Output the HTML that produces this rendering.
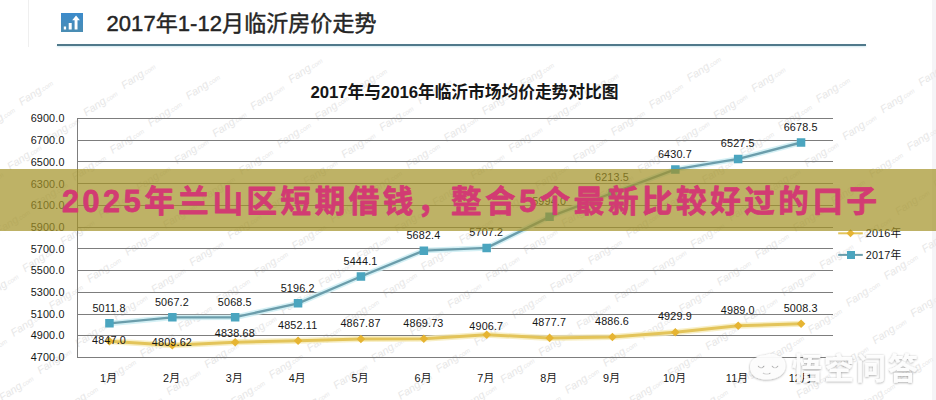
<!DOCTYPE html>
<html lang="zh-CN">
<head>
<meta charset="utf-8">
<title>2017年1-12月临沂房价走势</title>
<style>
html,body{margin:0;padding:0;background:#fff;}
body{width:936px;height:400px;overflow:hidden;position:relative;font-family:"Liberation Sans","Noto Sans CJK SC",sans-serif;color:#1f1f1f;}
.stage{position:absolute;left:0;top:0;width:936px;height:400px;overflow:hidden;background:#fff;}
.sr{position:absolute;width:1px;height:1px;margin:-1px;padding:0;overflow:hidden;clip:rect(0 0 0 0);clip-path:inset(50%);white-space:nowrap;border:0;font-size:1px;color:transparent;}
svg{position:absolute;left:0;top:0;display:block;overflow:visible;}
h1,h2,h3,p,figure{margin:0;padding:0;font-weight:normal;}
.hdr{position:absolute;left:0;top:0;width:936px;height:48px;}
.icon{position:absolute;left:61px;top:13px;width:22px;height:19px;background:linear-gradient(#3c8bcb,#4a8db3);}
.rule{position:absolute;left:57px;top:43.5px;width:809px;height:2px;background:#50798b;box-shadow:0 1px 2px rgba(120,190,215,.35);}
.chart text{font-family:"Liberation Sans","Noto Sans CJK SC",sans-serif;font-size:10.8px;letter-spacing:.15px;fill:#161616;}
.chart .wm text{fill:#e7e7e7;font-style:italic;letter-spacing:0;}
.banner{position:absolute;left:0;top:169px;width:936px;height:62px;background:rgba(163,146,40,.71);}
.edgeL{position:absolute;left:28px;top:0;width:1px;height:47px;background:#efefef;}
.edgeR{position:absolute;left:932px;top:0;width:4px;height:400px;background:#f5f4f7;}
.mark{position:absolute;left:0;top:0;width:936px;height:400px;pointer-events:none;}
</style>
</head>
<body>
<div class="stage">
<div class="edgeL"></div><div class="edgeR"></div>
<figure class="chart"><svg width="936" height="400" viewBox="0 0 936 400" role="img" aria-label="2017年与2016年临沂市场均价走势对比图">
<g class="wm">
<text transform="translate(703.5 68.5) rotate(-34)" x="-19" y="3.5" font-size="10.5">Fang<tspan font-size="6.5">.com</tspan></text>
<text transform="translate(305 70) rotate(-34)" x="-19" y="3.5" font-size="10.5">Fang<tspan font-size="6.5">.com</tspan></text>
<text transform="translate(935 73) rotate(-34)" x="-19" y="3.5" font-size="10.5">Fang<tspan font-size="6.5">.com</tspan></text>
<text transform="translate(536.5 74.5) rotate(-34)" x="-19" y="3.5" font-size="10.5">Fang<tspan font-size="6.5">.com</tspan></text>
<text transform="translate(138 76) rotate(-34)" x="-19" y="3.5" font-size="10.5">Fang<tspan font-size="6.5">.com</tspan></text>
<text transform="translate(768 79) rotate(-34)" x="-19" y="3.5" font-size="10.5">Fang<tspan font-size="6.5">.com</tspan></text>
<text transform="translate(369.5 80.5) rotate(-34)" x="-19" y="3.5" font-size="10.5">Fang<tspan font-size="6.5">.com</tspan></text>
<text transform="translate(601 85) rotate(-34)" x="-19" y="3.5" font-size="10.5">Fang<tspan font-size="6.5">.com</tspan></text>
<text transform="translate(202.5 86.5) rotate(-34)" x="-19" y="3.5" font-size="10.5">Fang<tspan font-size="6.5">.com</tspan></text>
<text transform="translate(832.5 89.5) rotate(-34)" x="-19" y="3.5" font-size="10.5">Fang<tspan font-size="6.5">.com</tspan></text>
<text transform="translate(434 91) rotate(-34)" x="-19" y="3.5" font-size="10.5">Fang<tspan font-size="6.5">.com</tspan></text>
<text transform="translate(35.5 92.5) rotate(-34)" x="-19" y="3.5" font-size="10.5">Fang<tspan font-size="6.5">.com</tspan></text>
<text transform="translate(665.5 95.5) rotate(-34)" x="-19" y="3.5" font-size="10.5">Fang<tspan font-size="6.5">.com</tspan></text>
<text transform="translate(267 97) rotate(-34)" x="-19" y="3.5" font-size="10.5">Fang<tspan font-size="6.5">.com</tspan></text>
<text transform="translate(897 100) rotate(-34)" x="-19" y="3.5" font-size="10.5">Fang<tspan font-size="6.5">.com</tspan></text>
<text transform="translate(498.5 101.5) rotate(-34)" x="-19" y="3.5" font-size="10.5">Fang<tspan font-size="6.5">.com</tspan></text>
<text transform="translate(100 103) rotate(-34)" x="-19" y="3.5" font-size="10.5">Fang<tspan font-size="6.5">.com</tspan></text>
<text transform="translate(730 106) rotate(-34)" x="-19" y="3.5" font-size="10.5">Fang<tspan font-size="6.5">.com</tspan></text>
<text transform="translate(331.5 107.5) rotate(-34)" x="-19" y="3.5" font-size="10.5">Fang<tspan font-size="6.5">.com</tspan></text>
<text transform="translate(563 112) rotate(-34)" x="-19" y="3.5" font-size="10.5">Fang<tspan font-size="6.5">.com</tspan></text>
<text transform="translate(164.5 113.5) rotate(-34)" x="-19" y="3.5" font-size="10.5">Fang<tspan font-size="6.5">.com</tspan></text>
<text transform="translate(794.5 116.5) rotate(-34)" x="-19" y="3.5" font-size="10.5">Fang<tspan font-size="6.5">.com</tspan></text>
<text transform="translate(396 118) rotate(-34)" x="-19" y="3.5" font-size="10.5">Fang<tspan font-size="6.5">.com</tspan></text>
<text transform="translate(-2.5 119.5) rotate(-34)" x="-19" y="3.5" font-size="10.5">Fang<tspan font-size="6.5">.com</tspan></text>
<text transform="translate(627.5 122.5) rotate(-34)" x="-19" y="3.5" font-size="10.5">Fang<tspan font-size="6.5">.com</tspan></text>
<text transform="translate(229 124) rotate(-34)" x="-19" y="3.5" font-size="10.5">Fang<tspan font-size="6.5">.com</tspan></text>
<text transform="translate(859 127) rotate(-34)" x="-19" y="3.5" font-size="10.5">Fang<tspan font-size="6.5">.com</tspan></text>
<text transform="translate(460.5 128.5) rotate(-34)" x="-19" y="3.5" font-size="10.5">Fang<tspan font-size="6.5">.com</tspan></text>
<text transform="translate(62 130) rotate(-34)" x="-19" y="3.5" font-size="10.5">Fang<tspan font-size="6.5">.com</tspan></text>
<text transform="translate(692 133) rotate(-34)" x="-19" y="3.5" font-size="10.5">Fang<tspan font-size="6.5">.com</tspan></text>
<text transform="translate(293.5 134.5) rotate(-34)" x="-19" y="3.5" font-size="10.5">Fang<tspan font-size="6.5">.com</tspan></text>
<text transform="translate(923.5 137.5) rotate(-34)" x="-19" y="3.5" font-size="10.5">Fang<tspan font-size="6.5">.com</tspan></text>
<text transform="translate(525 139) rotate(-34)" x="-19" y="3.5" font-size="10.5">Fang<tspan font-size="6.5">.com</tspan></text>
<text transform="translate(126.5 140.5) rotate(-34)" x="-19" y="3.5" font-size="10.5">Fang<tspan font-size="6.5">.com</tspan></text>
<text transform="translate(756.5 143.5) rotate(-34)" x="-19" y="3.5" font-size="10.5">Fang<tspan font-size="6.5">.com</tspan></text>
<text transform="translate(358 145) rotate(-34)" x="-19" y="3.5" font-size="10.5">Fang<tspan font-size="6.5">.com</tspan></text>
<text transform="translate(589.5 149.5) rotate(-34)" x="-19" y="3.5" font-size="10.5">Fang<tspan font-size="6.5">.com</tspan></text>
<text transform="translate(191 151) rotate(-34)" x="-19" y="3.5" font-size="10.5">Fang<tspan font-size="6.5">.com</tspan></text>
<text transform="translate(821 154) rotate(-34)" x="-19" y="3.5" font-size="10.5">Fang<tspan font-size="6.5">.com</tspan></text>
<text transform="translate(422.5 155.5) rotate(-34)" x="-19" y="3.5" font-size="10.5">Fang<tspan font-size="6.5">.com</tspan></text>
<text transform="translate(24 157) rotate(-34)" x="-19" y="3.5" font-size="10.5">Fang<tspan font-size="6.5">.com</tspan></text>
<text transform="translate(654 160) rotate(-34)" x="-19" y="3.5" font-size="10.5">Fang<tspan font-size="6.5">.com</tspan></text>
<text transform="translate(255.5 161.5) rotate(-34)" x="-19" y="3.5" font-size="10.5">Fang<tspan font-size="6.5">.com</tspan></text>
<text transform="translate(885.5 164.5) rotate(-34)" x="-19" y="3.5" font-size="10.5">Fang<tspan font-size="6.5">.com</tspan></text>
<text transform="translate(487 166) rotate(-34)" x="-19" y="3.5" font-size="10.5">Fang<tspan font-size="6.5">.com</tspan></text>
<text transform="translate(88.5 167.5) rotate(-34)" x="-19" y="3.5" font-size="10.5">Fang<tspan font-size="6.5">.com</tspan></text>
<text transform="translate(718.5 170.5) rotate(-34)" x="-19" y="3.5" font-size="10.5">Fang<tspan font-size="6.5">.com</tspan></text>
<text transform="translate(320 172) rotate(-34)" x="-19" y="3.5" font-size="10.5">Fang<tspan font-size="6.5">.com</tspan></text>
<text transform="translate(950 175) rotate(-34)" x="-19" y="3.5" font-size="10.5">Fang<tspan font-size="6.5">.com</tspan></text>
<text transform="translate(551.5 176.5) rotate(-34)" x="-19" y="3.5" font-size="10.5">Fang<tspan font-size="6.5">.com</tspan></text>
<text transform="translate(153 178) rotate(-34)" x="-19" y="3.5" font-size="10.5">Fang<tspan font-size="6.5">.com</tspan></text>
<text transform="translate(783 181) rotate(-34)" x="-19" y="3.5" font-size="10.5">Fang<tspan font-size="6.5">.com</tspan></text>
<text transform="translate(384.5 182.5) rotate(-34)" x="-19" y="3.5" font-size="10.5">Fang<tspan font-size="6.5">.com</tspan></text>
<text transform="translate(-14 184) rotate(-34)" x="-19" y="3.5" font-size="10.5">Fang<tspan font-size="6.5">.com</tspan></text>
<text transform="translate(616 187) rotate(-34)" x="-19" y="3.5" font-size="10.5">Fang<tspan font-size="6.5">.com</tspan></text>
<text transform="translate(217.5 188.5) rotate(-34)" x="-19" y="3.5" font-size="10.5">Fang<tspan font-size="6.5">.com</tspan></text>
<text transform="translate(847.5 191.5) rotate(-34)" x="-19" y="3.5" font-size="10.5">Fang<tspan font-size="6.5">.com</tspan></text>
<text transform="translate(449 193) rotate(-34)" x="-19" y="3.5" font-size="10.5">Fang<tspan font-size="6.5">.com</tspan></text>
<text transform="translate(50.5 194.5) rotate(-34)" x="-19" y="3.5" font-size="10.5">Fang<tspan font-size="6.5">.com</tspan></text>
<text transform="translate(680.5 197.5) rotate(-34)" x="-19" y="3.5" font-size="10.5">Fang<tspan font-size="6.5">.com</tspan></text>
<text transform="translate(282 199) rotate(-34)" x="-19" y="3.5" font-size="10.5">Fang<tspan font-size="6.5">.com</tspan></text>
<text transform="translate(912 202) rotate(-34)" x="-19" y="3.5" font-size="10.5">Fang<tspan font-size="6.5">.com</tspan></text>
<text transform="translate(513.5 203.5) rotate(-34)" x="-19" y="3.5" font-size="10.5">Fang<tspan font-size="6.5">.com</tspan></text>
<text transform="translate(115 205) rotate(-34)" x="-19" y="3.5" font-size="10.5">Fang<tspan font-size="6.5">.com</tspan></text>
<text transform="translate(745 208) rotate(-34)" x="-19" y="3.5" font-size="10.5">Fang<tspan font-size="6.5">.com</tspan></text>
<text transform="translate(346.5 209.5) rotate(-34)" x="-19" y="3.5" font-size="10.5">Fang<tspan font-size="6.5">.com</tspan></text>
<text transform="translate(578 214) rotate(-34)" x="-19" y="3.5" font-size="10.5">Fang<tspan font-size="6.5">.com</tspan></text>
<text transform="translate(179.5 215.5) rotate(-34)" x="-19" y="3.5" font-size="10.5">Fang<tspan font-size="6.5">.com</tspan></text>
<text transform="translate(809.5 218.5) rotate(-34)" x="-19" y="3.5" font-size="10.5">Fang<tspan font-size="6.5">.com</tspan></text>
<text transform="translate(411 220) rotate(-34)" x="-19" y="3.5" font-size="10.5">Fang<tspan font-size="6.5">.com</tspan></text>
<text transform="translate(12.5 221.5) rotate(-34)" x="-19" y="3.5" font-size="10.5">Fang<tspan font-size="6.5">.com</tspan></text>
<text transform="translate(642.5 224.5) rotate(-34)" x="-19" y="3.5" font-size="10.5">Fang<tspan font-size="6.5">.com</tspan></text>
<text transform="translate(244 226) rotate(-34)" x="-19" y="3.5" font-size="10.5">Fang<tspan font-size="6.5">.com</tspan></text>
<text transform="translate(874 229) rotate(-34)" x="-19" y="3.5" font-size="10.5">Fang<tspan font-size="6.5">.com</tspan></text>
<text transform="translate(475.5 230.5) rotate(-34)" x="-19" y="3.5" font-size="10.5">Fang<tspan font-size="6.5">.com</tspan></text>
<text transform="translate(77 232) rotate(-34)" x="-19" y="3.5" font-size="10.5">Fang<tspan font-size="6.5">.com</tspan></text>
<text transform="translate(707 235) rotate(-34)" x="-19" y="3.5" font-size="10.5">Fang<tspan font-size="6.5">.com</tspan></text>
<text transform="translate(308.5 236.5) rotate(-34)" x="-19" y="3.5" font-size="10.5">Fang<tspan font-size="6.5">.com</tspan></text>
<text transform="translate(938.5 239.5) rotate(-34)" x="-19" y="3.5" font-size="10.5">Fang<tspan font-size="6.5">.com</tspan></text>
<text transform="translate(540 241) rotate(-34)" x="-19" y="3.5" font-size="10.5">Fang<tspan font-size="6.5">.com</tspan></text>
<text transform="translate(141.5 242.5) rotate(-34)" x="-19" y="3.5" font-size="10.5">Fang<tspan font-size="6.5">.com</tspan></text>
<text transform="translate(771.5 245.5) rotate(-34)" x="-19" y="3.5" font-size="10.5">Fang<tspan font-size="6.5">.com</tspan></text>
<text transform="translate(373 247) rotate(-34)" x="-19" y="3.5" font-size="10.5">Fang<tspan font-size="6.5">.com</tspan></text>
<text transform="translate(604.5 251.5) rotate(-34)" x="-19" y="3.5" font-size="10.5">Fang<tspan font-size="6.5">.com</tspan></text>
<text transform="translate(206 253) rotate(-34)" x="-19" y="3.5" font-size="10.5">Fang<tspan font-size="6.5">.com</tspan></text>
<text transform="translate(836 256) rotate(-34)" x="-19" y="3.5" font-size="10.5">Fang<tspan font-size="6.5">.com</tspan></text>
<text transform="translate(437.5 257.5) rotate(-34)" x="-19" y="3.5" font-size="10.5">Fang<tspan font-size="6.5">.com</tspan></text>
<text transform="translate(39 259) rotate(-34)" x="-19" y="3.5" font-size="10.5">Fang<tspan font-size="6.5">.com</tspan></text>
<text transform="translate(669 262) rotate(-34)" x="-19" y="3.5" font-size="10.5">Fang<tspan font-size="6.5">.com</tspan></text>
<text transform="translate(270.5 263.5) rotate(-34)" x="-19" y="3.5" font-size="10.5">Fang<tspan font-size="6.5">.com</tspan></text>
<text transform="translate(900.5 266.5) rotate(-34)" x="-19" y="3.5" font-size="10.5">Fang<tspan font-size="6.5">.com</tspan></text>
<text transform="translate(502 268) rotate(-34)" x="-19" y="3.5" font-size="10.5">Fang<tspan font-size="6.5">.com</tspan></text>
<text transform="translate(103.5 269.5) rotate(-34)" x="-19" y="3.5" font-size="10.5">Fang<tspan font-size="6.5">.com</tspan></text>
<text transform="translate(733.5 272.5) rotate(-34)" x="-19" y="3.5" font-size="10.5">Fang<tspan font-size="6.5">.com</tspan></text>
<text transform="translate(335 274) rotate(-34)" x="-19" y="3.5" font-size="10.5">Fang<tspan font-size="6.5">.com</tspan></text>
<text transform="translate(566.5 278.5) rotate(-34)" x="-19" y="3.5" font-size="10.5">Fang<tspan font-size="6.5">.com</tspan></text>
<text transform="translate(168 280) rotate(-34)" x="-19" y="3.5" font-size="10.5">Fang<tspan font-size="6.5">.com</tspan></text>
<text transform="translate(798 283) rotate(-34)" x="-19" y="3.5" font-size="10.5">Fang<tspan font-size="6.5">.com</tspan></text>
<text transform="translate(399.5 284.5) rotate(-34)" x="-19" y="3.5" font-size="10.5">Fang<tspan font-size="6.5">.com</tspan></text>
<text transform="translate(1 286) rotate(-34)" x="-19" y="3.5" font-size="10.5">Fang<tspan font-size="6.5">.com</tspan></text>
<text transform="translate(631 289) rotate(-34)" x="-19" y="3.5" font-size="10.5">Fang<tspan font-size="6.5">.com</tspan></text>
<text transform="translate(232.5 290.5) rotate(-34)" x="-19" y="3.5" font-size="10.5">Fang<tspan font-size="6.5">.com</tspan></text>
<text transform="translate(862.5 293.5) rotate(-34)" x="-19" y="3.5" font-size="10.5">Fang<tspan font-size="6.5">.com</tspan></text>
<text transform="translate(464 295) rotate(-34)" x="-19" y="3.5" font-size="10.5">Fang<tspan font-size="6.5">.com</tspan></text>
<text transform="translate(65.5 296.5) rotate(-34)" x="-19" y="3.5" font-size="10.5">Fang<tspan font-size="6.5">.com</tspan></text>
<text transform="translate(695.5 299.5) rotate(-34)" x="-19" y="3.5" font-size="10.5">Fang<tspan font-size="6.5">.com</tspan></text>
<text transform="translate(297 301) rotate(-34)" x="-19" y="3.5" font-size="10.5">Fang<tspan font-size="6.5">.com</tspan></text>
<text transform="translate(927 304) rotate(-34)" x="-19" y="3.5" font-size="10.5">Fang<tspan font-size="6.5">.com</tspan></text>
<text transform="translate(528.5 305.5) rotate(-34)" x="-19" y="3.5" font-size="10.5">Fang<tspan font-size="6.5">.com</tspan></text>
<text transform="translate(130 307) rotate(-34)" x="-19" y="3.5" font-size="10.5">Fang<tspan font-size="6.5">.com</tspan></text>
<text transform="translate(760 310) rotate(-34)" x="-19" y="3.5" font-size="10.5">Fang<tspan font-size="6.5">.com</tspan></text>
<text transform="translate(361.5 311.5) rotate(-34)" x="-19" y="3.5" font-size="10.5">Fang<tspan font-size="6.5">.com</tspan></text>
<text transform="translate(593 316) rotate(-34)" x="-19" y="3.5" font-size="10.5">Fang<tspan font-size="6.5">.com</tspan></text>
<text transform="translate(194.5 317.5) rotate(-34)" x="-19" y="3.5" font-size="10.5">Fang<tspan font-size="6.5">.com</tspan></text>
<text transform="translate(824.5 320.5) rotate(-34)" x="-19" y="3.5" font-size="10.5">Fang<tspan font-size="6.5">.com</tspan></text>
<text transform="translate(426 322) rotate(-34)" x="-19" y="3.5" font-size="10.5">Fang<tspan font-size="6.5">.com</tspan></text>
<text transform="translate(27.5 323.5) rotate(-34)" x="-19" y="3.5" font-size="10.5">Fang<tspan font-size="6.5">.com</tspan></text>
<text transform="translate(657.5 326.5) rotate(-34)" x="-19" y="3.5" font-size="10.5">Fang<tspan font-size="6.5">.com</tspan></text>
<text transform="translate(259 328) rotate(-34)" x="-19" y="3.5" font-size="10.5">Fang<tspan font-size="6.5">.com</tspan></text>
<text transform="translate(889 331) rotate(-34)" x="-19" y="3.5" font-size="10.5">Fang<tspan font-size="6.5">.com</tspan></text>
<text transform="translate(490.5 332.5) rotate(-34)" x="-19" y="3.5" font-size="10.5">Fang<tspan font-size="6.5">.com</tspan></text>
<text transform="translate(92 334) rotate(-34)" x="-19" y="3.5" font-size="10.5">Fang<tspan font-size="6.5">.com</tspan></text>
<text transform="translate(722 337) rotate(-34)" x="-19" y="3.5" font-size="10.5">Fang<tspan font-size="6.5">.com</tspan></text>
<text transform="translate(323.5 338.5) rotate(-34)" x="-19" y="3.5" font-size="10.5">Fang<tspan font-size="6.5">.com</tspan></text>
<text transform="translate(953.5 341.5) rotate(-34)" x="-19" y="3.5" font-size="10.5">Fang<tspan font-size="6.5">.com</tspan></text>
<text transform="translate(555 343) rotate(-34)" x="-19" y="3.5" font-size="10.5">Fang<tspan font-size="6.5">.com</tspan></text>
<text transform="translate(156.5 344.5) rotate(-34)" x="-19" y="3.5" font-size="10.5">Fang<tspan font-size="6.5">.com</tspan></text>
<text transform="translate(786.5 347.5) rotate(-34)" x="-19" y="3.5" font-size="10.5">Fang<tspan font-size="6.5">.com</tspan></text>
<text transform="translate(388 349) rotate(-34)" x="-19" y="3.5" font-size="10.5">Fang<tspan font-size="6.5">.com</tspan></text>
<text transform="translate(-10.5 350.5) rotate(-34)" x="-19" y="3.5" font-size="10.5">Fang<tspan font-size="6.5">.com</tspan></text>
<text transform="translate(619.5 353.5) rotate(-34)" x="-19" y="3.5" font-size="10.5">Fang<tspan font-size="6.5">.com</tspan></text>
<text transform="translate(221 355) rotate(-34)" x="-19" y="3.5" font-size="10.5">Fang<tspan font-size="6.5">.com</tspan></text>
<text transform="translate(851 358) rotate(-34)" x="-19" y="3.5" font-size="10.5">Fang<tspan font-size="6.5">.com</tspan></text>
<text transform="translate(452.5 359.5) rotate(-34)" x="-19" y="3.5" font-size="10.5">Fang<tspan font-size="6.5">.com</tspan></text>
<text transform="translate(54 361) rotate(-34)" x="-19" y="3.5" font-size="10.5">Fang<tspan font-size="6.5">.com</tspan></text>
<text transform="translate(684 364) rotate(-34)" x="-19" y="3.5" font-size="10.5">Fang<tspan font-size="6.5">.com</tspan></text>
<text transform="translate(285.5 365.5) rotate(-34)" x="-19" y="3.5" font-size="10.5">Fang<tspan font-size="6.5">.com</tspan></text>
<text transform="translate(915.5 368.5) rotate(-34)" x="-19" y="3.5" font-size="10.5">Fang<tspan font-size="6.5">.com</tspan></text>
<text transform="translate(517 370) rotate(-34)" x="-19" y="3.5" font-size="10.5">Fang<tspan font-size="6.5">.com</tspan></text>
<text transform="translate(118.5 371.5) rotate(-34)" x="-19" y="3.5" font-size="10.5">Fang<tspan font-size="6.5">.com</tspan></text>
<text transform="translate(748.5 374.5) rotate(-34)" x="-19" y="3.5" font-size="10.5">Fang<tspan font-size="6.5">.com</tspan></text>
<text transform="translate(350 376) rotate(-34)" x="-19" y="3.5" font-size="10.5">Fang<tspan font-size="6.5">.com</tspan></text>
<text transform="translate(581.5 380.5) rotate(-34)" x="-19" y="3.5" font-size="10.5">Fang<tspan font-size="6.5">.com</tspan></text>
<text transform="translate(183 382) rotate(-34)" x="-19" y="3.5" font-size="10.5">Fang<tspan font-size="6.5">.com</tspan></text>
<text transform="translate(813 385) rotate(-34)" x="-19" y="3.5" font-size="10.5">Fang<tspan font-size="6.5">.com</tspan></text>
<text transform="translate(414.5 386.5) rotate(-34)" x="-19" y="3.5" font-size="10.5">Fang<tspan font-size="6.5">.com</tspan></text>
<text transform="translate(16 388) rotate(-34)" x="-19" y="3.5" font-size="10.5">Fang<tspan font-size="6.5">.com</tspan></text>
<text transform="translate(646 391) rotate(-34)" x="-19" y="3.5" font-size="10.5">Fang<tspan font-size="6.5">.com</tspan></text>
<text transform="translate(247.5 392.5) rotate(-34)" x="-19" y="3.5" font-size="10.5">Fang<tspan font-size="6.5">.com</tspan></text>
<text transform="translate(877.5 395.5) rotate(-34)" x="-19" y="3.5" font-size="10.5">Fang<tspan font-size="6.5">.com</tspan></text>
<text transform="translate(479 397) rotate(-34)" x="-19" y="3.5" font-size="10.5">Fang<tspan font-size="6.5">.com</tspan></text>
<text transform="translate(80.5 398.5) rotate(-34)" x="-19" y="3.5" font-size="10.5">Fang<tspan font-size="6.5">.com</tspan></text>
<text transform="translate(710.5 401.5) rotate(-34)" x="-19" y="3.5" font-size="10.5">Fang<tspan font-size="6.5">.com</tspan></text>
<text transform="translate(312 403) rotate(-34)" x="-19" y="3.5" font-size="10.5">Fang<tspan font-size="6.5">.com</tspan></text>
<text transform="translate(942 406) rotate(-34)" x="-19" y="3.5" font-size="10.5">Fang<tspan font-size="6.5">.com</tspan></text>
<text transform="translate(543.5 407.5) rotate(-34)" x="-19" y="3.5" font-size="10.5">Fang<tspan font-size="6.5">.com</tspan></text>
<text transform="translate(145 409) rotate(-34)" x="-19" y="3.5" font-size="10.5">Fang<tspan font-size="6.5">.com</tspan></text>
</g>
<path d="M77 118.5H832.5M77 140.5H832.5M77 161.5H832.5M77 183.5H832.5M77 205.5H832.5M77 227.5H832.5M77 248.5H832.5M77 270.5H832.5M77 292.5H832.5M77 314.5H832.5M77 335.5H832.5M77 357.5H832.5M77.5 118V358" fill="none" stroke="#7d7d7d" stroke-width="1" shape-rendering="crispEdges"/>
<g text-anchor="end">
<text x="64.6" y="122.4">6900.0</text>
<text x="64.6" y="144.1">6700.0</text>
<text x="64.6" y="165.8">6500.0</text>
<text x="64.6" y="187.5">6300.0</text>
<text x="64.6" y="209.2">6100.0</text>
<text x="64.6" y="230.9">5900.0</text>
<text x="64.6" y="252.6">5700.0</text>
<text x="64.6" y="274.3">5500.0</text>
<text x="64.6" y="296">5300.0</text>
<text x="64.6" y="317.7">5100.0</text>
<text x="64.6" y="339.4">4900.0</text>
<text x="64.6" y="361.1">4700.0</text>
</g>
<g>
<text x="100.1" y="381.6">1月</text>
<text x="163" y="381.6">2月</text>
<text x="225.8" y="381.6">3月</text>
<text x="288.7" y="381.6">4月</text>
<text x="351.6" y="381.6">5月</text>
<text x="414.5" y="381.6">6月</text>
<text x="477.3" y="381.6">7月</text>
<text x="540.2" y="381.6">8月</text>
<text x="603.1" y="381.6">9月</text>
<text x="662.9" y="381.6">10月</text>
<text x="725.8" y="381.6">11月</text>
<text x="788.7" y="381.6">12月</text>
</g>
<polyline points="109.4,341.3 172.3,345.3 235.2,342.2 298.1,340.7 360.9,339 423.8,338.8 486.7,334.8 549.6,337.9 612.4,337 675.3,332.3 738.2,325.8 801.1,323.7" fill="none" stroke="#f6ebb8" stroke-width="6" stroke-linejoin="round" stroke-linecap="round" opacity=".8"/>
<polyline points="109.4,341.3 172.3,345.3 235.2,342.2 298.1,340.7 360.9,339 423.8,338.8 486.7,334.8 549.6,337.9 612.4,337 675.3,332.3 738.2,325.8 801.1,323.7" fill="none" stroke="#e3c45a" stroke-width="3" stroke-linejoin="round" stroke-linecap="round"/>
<path d="M109.4 337l4.3 4.3l-4.3 4.3l-4.3 -4.3zM172.3 341l4.3 4.3l-4.3 4.3l-4.3 -4.3zM235.2 337.9l4.3 4.3l-4.3 4.3l-4.3 -4.3zM298.1 336.4l4.3 4.3l-4.3 4.3l-4.3 -4.3zM360.9 334.7l4.3 4.3l-4.3 4.3l-4.3 -4.3zM423.8 334.5l4.3 4.3l-4.3 4.3l-4.3 -4.3zM486.7 330.5l4.3 4.3l-4.3 4.3l-4.3 -4.3zM549.6 333.6l4.3 4.3l-4.3 4.3l-4.3 -4.3zM612.4 332.7l4.3 4.3l-4.3 4.3l-4.3 -4.3zM675.3 328l4.3 4.3l-4.3 4.3l-4.3 -4.3zM738.2 321.5l4.3 4.3l-4.3 4.3l-4.3 -4.3zM801.1 319.4l4.3 4.3l-4.3 4.3l-4.3 -4.3z" fill="#e6b432"/>
<polyline points="109.4,323.4 172.3,317.4 235.2,317.2 298.1,303.4 360.9,276.5 423.8,250.6 486.7,247.9 549.6,216.8 612.4,193 675.3,169.4 738.2,158.9 801.1,142.5" fill="none" stroke="#c9ecf3" stroke-width="5.5" stroke-linejoin="round" stroke-linecap="round" opacity=".8"/>
<polyline points="109.4,323.4 172.3,317.4 235.2,317.2 298.1,303.4 360.9,276.5 423.8,250.6 486.7,247.9 549.6,216.8 612.4,193 675.3,169.4 738.2,158.9 801.1,142.5" fill="none" stroke="#6b9dab" stroke-width="2.4" stroke-linejoin="round" stroke-linecap="round"/>
<path d="M105.2 319.1h8.5v8.5h-8.5zM168.1 313.1h8.5v8.5h-8.5zM230.9 313h8.5v8.5h-8.5zM293.8 299.1h8.5v8.5h-8.5zM356.7 272.2h8.5v8.5h-8.5zM419.6 246.4h8.5v8.5h-8.5zM482.4 243.7h8.5v8.5h-8.5zM545.3 212.6h8.5v8.5h-8.5zM608.2 188.7h8.5v8.5h-8.5zM671.1 165.2h8.5v8.5h-8.5zM733.9 154.7h8.5v8.5h-8.5zM796.8 138.3h8.5v8.5h-8.5z" fill="#4ba5bf"/>
<g text-anchor="middle">
<text x="109" y="311.7">5011.8</text>
<text x="171.9" y="305.7">5067.2</text>
<text x="234.8" y="305.5">5068.5</text>
<text x="297.7" y="291.7">5196.2</text>
<text x="360.5" y="264.8">5444.1</text>
<text x="423.4" y="238.9">5682.4</text>
<text x="486.3" y="236.2">5707.2</text>
<text x="549.2" y="205.1">5994.0</text>
<text x="612" y="181.3">6213.5</text>
<text x="674.9" y="157.7">6430.7</text>
<text x="737.8" y="147.2">6527.5</text>
<text x="800.7" y="130.8">6678.5</text>
<text x="109" y="344.2">4847.0</text>
<text x="171.9" y="346">4809.62</text>
<text x="234.8" y="337.4">4838.68</text>
<text x="297.7" y="328.8">4852.11</text>
<text x="360.5" y="327.1">4867.87</text>
<text x="423.4" y="326.9">4869.73</text>
<text x="486.3" y="329.9">4906.7</text>
<text x="549.2" y="326">4877.7</text>
<text x="612" y="325.1">4886.6</text>
<text x="674.9" y="320.4">4929.9</text>
<text x="737.8" y="313.9">4989.0</text>
<text x="800.7" y="311.8">5008.3</text>
</g>
<path d="M838.2 233.3H862.8" stroke="#e3c45a" stroke-width="2" fill="none"/>
<path d="M850.5 229.3l4 4l-4 4l-4-4z" fill="#e6b432"/>
<path d="M838.2 254.9H862.8" stroke="#6b9dab" stroke-width="2" fill="none"/>
<path d="M847 251h8v8h-8z" fill="#4ba5bf"/>
<text x="865.8" y="237" font-size="10.6">2016年</text>
<text x="865.8" y="258.6" font-size="10.6">2017年</text>
<text x="310.5" y="97.6" textLength="308" lengthAdjust="spacing" style="font-size:16.8px;font-weight:bold;letter-spacing:0;fill:#161616;">2017年与2016年临沂市场均价走势对比图</text>
</svg><figcaption class="sr">2017年与2016年临沂市场均价走势对比图（图例：2016年、2017年；横轴：1月至12月）</figcaption></figure>
<header class="hdr">
<div class="icon"><svg width="22" height="19" viewBox="0 0 22 19"><path d="M2.8 13.5h2.3v2.9H2.8zM7.7 10.1h3v6.3h-3zM13.6 7h2.9v9.4h-2.9zM11.2 7.2L15.05 2.4L18.9 7.2z" fill="#fff"/></svg></div>
<h1><svg width="936" height="48" viewBox="0 0 936 48" role="img" aria-label="2017年1-12月临沂房价走势"><text x="106.5" y="31" textLength="270" lengthAdjust="spacing" font-family="&quot;Liberation Sans&quot;, &quot;Noto Sans CJK SC&quot;, sans-serif" font-size="22" fill="#252525" stroke="#252525" stroke-width=".45" stroke-linejoin="round">2017年1-12月临沂房价走势</text></svg><span class="sr">2017年1-12月临沂房价走势</span></h1>
<div class="rule"></div>
</header>
<div class="banner"><h2><svg width="936" height="62" viewBox="0 0 936 62" role="img" aria-label="2025年兰山区短期借钱，整合5个最新比较好过的口子"><text x="62" y="43.4" textLength="815" lengthAdjust="spacing" font-family="&quot;Liberation Sans&quot;, &quot;Noto Sans CJK SC&quot;, sans-serif" font-size="30.5" font-weight="bold" fill="#d23b73" stroke="#d23b73" stroke-width=".8" stroke-linejoin="round">2025年兰山区短期借钱，整合5个最新比较好过的口子</text></svg><span class="sr">2025年兰山区短期借钱，整合5个最新比较好过的口子</span></h2></div>
<div class="mark"><svg width="936" height="400" viewBox="0 0 936 400" role="img" aria-label="悟空问答"><defs><filter id="ws" x="-5%" y="-20%" width="110%" height="140%"><feDropShadow dx="0" dy="0.6" stdDeviation="0.8" flood-color="#000" flood-opacity=".42"/></filter></defs><g filter="url(#ws)" fill="#fff" fill-opacity=".93"><text x="792" y="379" textLength="126" lengthAdjust="spacing" font-family="&quot;Liberation Sans&quot;, &quot;Noto Sans CJK SC&quot;, sans-serif" font-size="30" font-weight="bold">悟空问答</text><path d="M766 355c4-2 9-1.500 12 .8c4.500 .7 7.500 4.500 7.500 10.200c0 8-7.500 13.500-19 13.500s-16.500-5.500-16.500-12.500c0-6.500 5.500-11.300 16-12zm-8.400 10.700c.6 3.600 6.600 3.600 7.200 0h-1.500c-.5 1.900-3.700 1.900-4.200 0zm13.800 0c.6 3.600 6.600 3.600 7.200 0h-1.500c-.5 1.900-3.700 1.900-4.200 0zm-8.900 7.800c2.500 1.800 6 1.800 8.500 0l-.7-1c-2.200 1.400-4.900 1.400-7.100 0z" fill-rule="evenodd"/></g></svg><span class="sr">悟空问答</span></div>
</div>
</body>
</html>
